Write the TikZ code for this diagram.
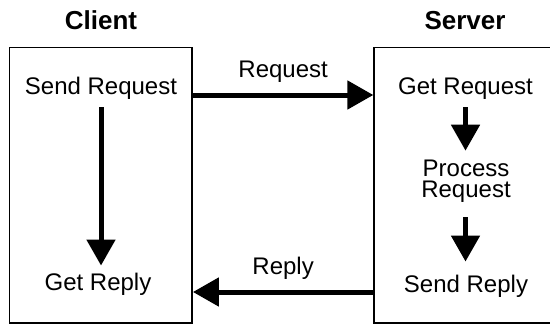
\documentclass[tikz,border=0pt]{standalone}
\usepackage{fontspec}
\setmainfont{Liberation Sans}
\usetikzlibrary{arrows.meta}

\begin{document}
\begin{tikzpicture}[x=0.5pt,y=-0.5pt,
  mybox/.style={draw,line width=0.9pt,minimum width=91.25pt,minimum height=137.75pt},
  mytitle/.style={anchor=base,font=\fontsize{13}{15}\selectfont\bfseries},
  mytext/.style={anchor=base,font=\fontsize{12}{10.5}\selectfont},
  myarrow/.style={line width=2.5pt,-{Triangle[length=13pt,width=14pt]}}]
\useasboundingbox (0,0) rectangle (550,326);
\clip (0,0) rectangle (550,326);
% the two sides
\node [mybox] (client) at (100.75,185.25) {};
\node [mybox] (server) at (465.5,185.25) {};
\node [mytitle] (ctitle) at (101,30) {Client};
\node [mytitle] (stitle) at (465,30) {Server};
% client steps
\node [mytext] (sreq) at (101,95) {Send Request};
\node [mytext] (grep) at (98,290) {Get Reply};
% server steps
\node [mytext] (greq) at (465.5,95) {Get Request};
\node [mytext,anchor=center,align=center] (proc) at (466,181) {Process\\Request};
\node [mytext] (srep) at (466,292) {Send Reply};
% arrows inside the boxes
\draw [myarrow] (sreq.south) -- (sreq.south |- grep.north);
\draw [myarrow,shorten >=1pt] (greq.south) -- (greq.south |- proc.north);
\draw [myarrow,shorten <=4pt,shorten >=3pt] (proc.south -| greq.south) -- (greq.south |- srep.north);
% messages between them
\draw [myarrow] (sreq.base -| client.east) -- (sreq.base -| server.west)
  node [midway,above=1.5pt,font=\fontsize{12}{14}\selectfont] (reqlbl) {Request};
\draw [myarrow] (srep.base -| server.west) -- (srep.base -| client.east)
  node [midway,above=1.5pt,font=\fontsize{12}{14}\selectfont] (replbl) {Reply};
\end{tikzpicture}
\end{document}
